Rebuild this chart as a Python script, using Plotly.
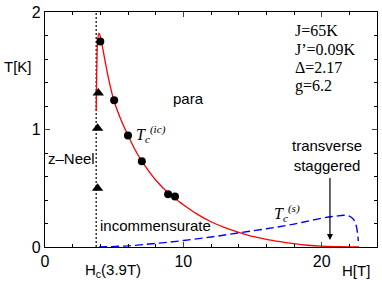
import plotly.graph_objects as go

# data
circ_h = [4.0, 5.0, 6.0, 7.0, 8.9, 9.4]
circ_t = [1.75, 1.25, 0.95, 0.73, 0.45, 0.43]
tri_h = [3.8, 3.8, 3.85]
tri_t = [0.50, 1.01, 1.31]

tic_h = [3.7, 3.72, 3.75, 3.8, 3.9, 4.0, 4.3, 4.6, 5.0, 5.5, 6.0, 6.5, 7.0, 8.0, 9.0, 10.0,
         11.0, 12.0, 13.0, 14.0, 15.0, 16.0, 17.0, 18.0, 19.0, 20.0, 21.0, 22.0, 22.7]
tic_t = [1.16, 1.35, 1.55, 1.75, 1.82, 1.79, 1.61, 1.43, 1.24, 1.08, 0.95, 0.83, 0.73, 0.57,
         0.45, 0.36, 0.28, 0.215, 0.165, 0.125, 0.09, 0.065, 0.045, 0.028, 0.015, 0.007,
         0.003, 0.001, 0.0]

ts_h = [3.9, 6.0, 8.0, 10.0, 12.0, 14.0, 16.0, 18.0, 20.0, 21.0, 21.6, 22.0, 22.3, 22.5, 22.6, 22.65]
ts_t = [0.0, 0.01, 0.03, 0.055, 0.085, 0.12, 0.155, 0.195, 0.245, 0.262, 0.27, 0.262, 0.235, 0.18, 0.11, 0.05]

hc = 3.7
params = ["J=65K", "J’=0.09K", "Δ=2.17", "g=6.2"]

sans = "Liberation Sans, Arial, sans-serif"
serif = "Liberation Serif, Times New Roman, serif"

fig = go.Figure()
fig.add_trace(go.Scatter(x=[hc, hc], y=[0, 2], mode="lines",
                         line=dict(color="black", width=1.2, dash="2px,2px"), showlegend=False))
fig.add_trace(go.Scatter(x=tic_h, y=tic_t, mode="lines", line=dict(color="red", width=1.3, shape="spline"),
                         showlegend=False))
fig.add_trace(go.Scatter(x=ts_h, y=ts_t, mode="lines",
                         line=dict(color="blue", width=1.4, dash="8px,4px", shape="spline"), showlegend=False))
fig.add_trace(go.Scatter(x=circ_h, y=circ_t, mode="markers",
                         marker=dict(symbol="circle", size=8, color="black"), showlegend=False))
fig.add_trace(go.Scatter(x=tri_h, y=tri_t, mode="markers",
                         marker=dict(symbol="triangle-up", size=10, color="black"), showlegend=False))

ann = []
ann.append(dict(x=10.4, y=1.26, text="para", showarrow=False, font=dict(family=sans, size=15, color="black")))
ann.append(dict(x=0.1, y=0.75, text="z–Neel", xanchor="left", showarrow=False,
                font=dict(family=sans, size=15, color="black")))
ann.append(dict(x=3.85, y=0.185, text="incommensurate", xanchor="left", showarrow=False,
                font=dict(family=sans, size=15, color="black")))
ann.append(dict(x=6.45, y=0.96, text="<i>T<sub>c</sub><sup>(ic)</sup></i>", xanchor="left", showarrow=False,
                font=dict(family=serif, size=16, color="black")))
ann.append(dict(x=16.4, y=0.29, text="<i>T<sub>c</sub><sup>(s)</sup></i>", xanchor="left", showarrow=False,
                font=dict(family=serif, size=16, color="black")))
ann.append(dict(x=20.4, y=0.78, text="transverse<br>staggered", showarrow=False,
                font=dict(family=sans, size=15, color="black")))
ann.append(dict(x=20.6, y=0.06, ax=20.6, ay=0.6, xref="x", yref="y", axref="x", ayref="y", text="",
                showarrow=True, arrowhead=2, arrowsize=1, arrowwidth=1.2, arrowcolor="black"))
for i, p in enumerate(params):
    ann.append(dict(x=17.9, y=1.84 - i * 0.156, text=p, xanchor="left", showarrow=False,
                    font=dict(family=serif, size=16, color="black")))
ann.append(dict(x=4.9, y=0, yref="paper", yshift=-23, yanchor="middle", text="H<sub>c</sub>(3.9T)",
                showarrow=False, font=dict(family=sans, size=15, color="black")))
ann.append(dict(x=22.5, y=0, yref="paper", yshift=-23, yanchor="middle", text="H[T]",
                showarrow=False, font=dict(family=sans, size=15, color="black")))
ann.append(dict(x=0, xref="paper", xanchor="center", xshift=-27, y=1.54, text="T[K]",
                showarrow=False, font=dict(family=sans, size=15, color="black")))

fig.update_layout(
    width=382, height=284, margin=dict(l=45, r=4, t=10, b=37),
    paper_bgcolor="white", plot_bgcolor="white",
    annotations=ann,
    xaxis=dict(range=[0, 24], tickvals=[0, 10, 20], ticks="inside", ticklen=5, tickwidth=1,
               showline=True, linecolor="black", linewidth=1.2, mirror="ticks", showgrid=False,
               zeroline=False, tickfont=dict(family=sans, size=16, color="black"),
               minor=dict(dtick=2, ticks="inside", ticklen=3, tickcolor="black", showgrid=False)),
    yaxis=dict(range=[0, 2], tickvals=[0, 1, 2], ticks="inside", ticklen=5, tickwidth=1,
               showline=True, linecolor="black", linewidth=1.2, mirror="ticks", showgrid=False,
               zeroline=False, tickfont=dict(family=sans, size=16, color="black"),
               minor=dict(dtick=0.2, ticks="inside", ticklen=3, tickcolor="black", showgrid=False)),
)
fig.write_html("out.html", post_script="document.body.style.margin='0px';",
               config={"displayModeBar": False})
